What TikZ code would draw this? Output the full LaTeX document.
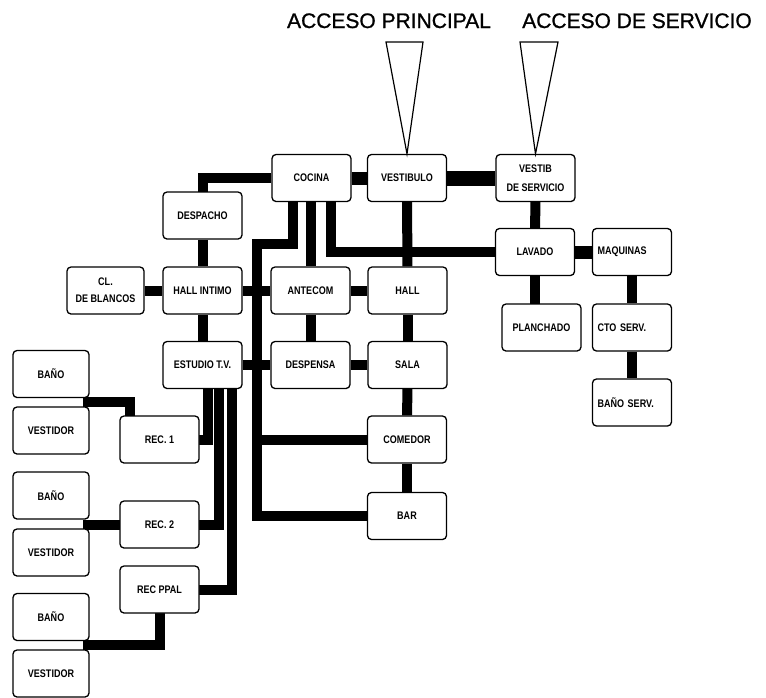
\documentclass[tikz,border=0pt]{standalone}
\usepackage{fontspec}
\setmainfont{Liberation Sans}
\newfontfamily\boxfont{Liberation Sans}[FakeStretch=0.82]
\newfontfamily\titlefont{Liberation Sans}[FakeBold=1]
\usetikzlibrary{backgrounds,calc}
\begin{document}
\begin{tikzpicture}[x=1pt,y=-1pt,
  room/.style={draw, rounded corners=4pt, line width=1.3pt, fill=white,
    minimum width=79pt, minimum height=47pt, inner sep=2pt,
    font=\boxfont\bfseries\fontsize{11}{13}\selectfont, align=center},
  lroom/.style={room, text width=69pt, align=left, inner xsep=5pt},
  link/.style={line width=10pt},
  wide/.style={line width=13pt},
  wider/.style={line width=15pt},
  entry/.style={draw, line width=1.2pt, fill=white},
  title/.style={font=\titlefont\fontsize{21}{24}\selectfont, anchor=base}]
\useasboundingbox (0,0) rectangle (766,697);

% titles
\node[title] (t1) at (389,28) {ACCESO PRINCIPAL};
\node[title] (t2) at (637,28) {ACCESO DE SERVICIO};

% rooms
\node[room] (coc)   at (311.5,178) {COCINA};
\node[room] (vest)  at (407,178) {VESTIBULO};
\node[room] (vserv) at (535.5,178) {VESTIB\\[6pt]DE SERVICIO};
\node[room] (desp)  at (202.5,215.5) {DESPACHO};
\node[room, minimum width=77pt] (cl) at (105.5,290.5) {CL.\\[4pt]DE BLANCOS};
\node[room] (hint)  at (202.5,290.5) {HALL INTIMO};
\node[room] (ante)  at (310.5,290.5) {ANTECOM};
\node[room] (hall)  at (407.5,290.5) {HALL};
\node[room] (est)   at (202.5,365) {ESTUDIO T.V.};
\node[room] (desn)  at (310.5,365) {DESPENSA};
\node[room] (sala)  at (407.5,365) {SALA};
\node[room] (com)   at (407,439.5) {COMEDOR};
\node[room] (bar)   at (407,516) {BAR};
\node[room, minimum width=76pt] (ba1) at (51,374) {BAÑO};
\node[room, minimum width=76pt] (vd1) at (51,430.5) {VESTIDOR};
\node[room] (rec1)  at (159.5,439.5) {REC. 1};
\node[room, minimum width=76pt] (ba2) at (51,495.5) {BAÑO};
\node[room, minimum width=76pt] (vd2) at (51,552.5) {VESTIDOR};
\node[room] (rec2)  at (159.5,524.5) {REC. 2};
\node[room] (recp)  at (159.5,589.5) {REC PPAL};
\node[room, minimum width=76pt] (ba3) at (51,617) {BAÑO};
\node[room, minimum width=76pt] (vd3) at (51,673.5) {VESTIDOR};
\node[room] (lav)   at (535,252) {LAVADO};
\node[lroom] (maq)  at (632,252) {MAQUINAS};
\node[room] (planch) at (541.5,327.5) {PLANCHADO};
\node[lroom] (cto)  at (632,327.5) {CTO SERV.};
\node[lroom] (bserv) at (632,402.5) {BAÑO SERV.};

% entrances
\draw[entry] (386,42) -- (423,42) -- (vest.north) -- cycle;
\draw[entry] (520,42) -- (558,42) -- (vserv.north) -- cycle;

\coordinate (k1) at (257,244);
\coordinate (j1) at (83,402);
\coordinate (j2) at (83,524.5);
\coordinate (j3) at (83,645);

\begin{scope}[on background layer]
  \draw[link] (coc.west) -| (desp.center);
  \draw[wide] (coc) -- (vest);
  \draw[wider] (vest) -- (vserv);
  \draw[link] (vest) -- (hall);
  \draw[link] (vserv) -- (lav);
  \draw[link] (lav) -- (lav |- planch.center);
  \draw[wide] (lav) -- (maq);
  \draw[link] (maq) -- (cto);
  \draw[link] (cto) -- (bserv);
  \draw[link] (desp) -- (hint);
  \draw[link] (hint) -- (est);
  \draw[link] (cl) -- (hint);
  \draw[link] (hint) -- (ante);
  \draw[link] (ante) -- (hall);
  \draw[link] (ante) -- (desn);
  \draw[link] (hall) -- (sala);
  \draw[link] (est) -- (desn);
  \draw[link] (desn) -- (sala);
  \draw[link] (sala) -- (com);
  \draw[link] (com) -- (bar);
  % kitchen branches
  \draw[link] ($(coc.center)+(-19,0)$) |- (k1) |- (bar.center);
  \draw[link] (k1 |- com.center) -- (com.center);
  \draw[link] (ante.center |- coc.center) -- (ante);
  \draw[link] ($(coc.center)+(19,0)$) |- (lav.center);
  % bedrooms
  \draw[link] ($(est.center)+(5.5,0)$) |- (rec1.center);
  \draw[link] ($(est.center)+(16.5,0)$) |- (rec2.center);
  \draw[link] ($(est.center)+(29.5,0)$) |- (recp.center);
  \draw[link] (j1) -| ($(rec1.center)+(-29.5,0)$);
  \draw[link] (j2) -- (rec2.center);
  \draw[link] (recp.center) |- (j3);
\end{scope}
\end{tikzpicture}
\end{document}
